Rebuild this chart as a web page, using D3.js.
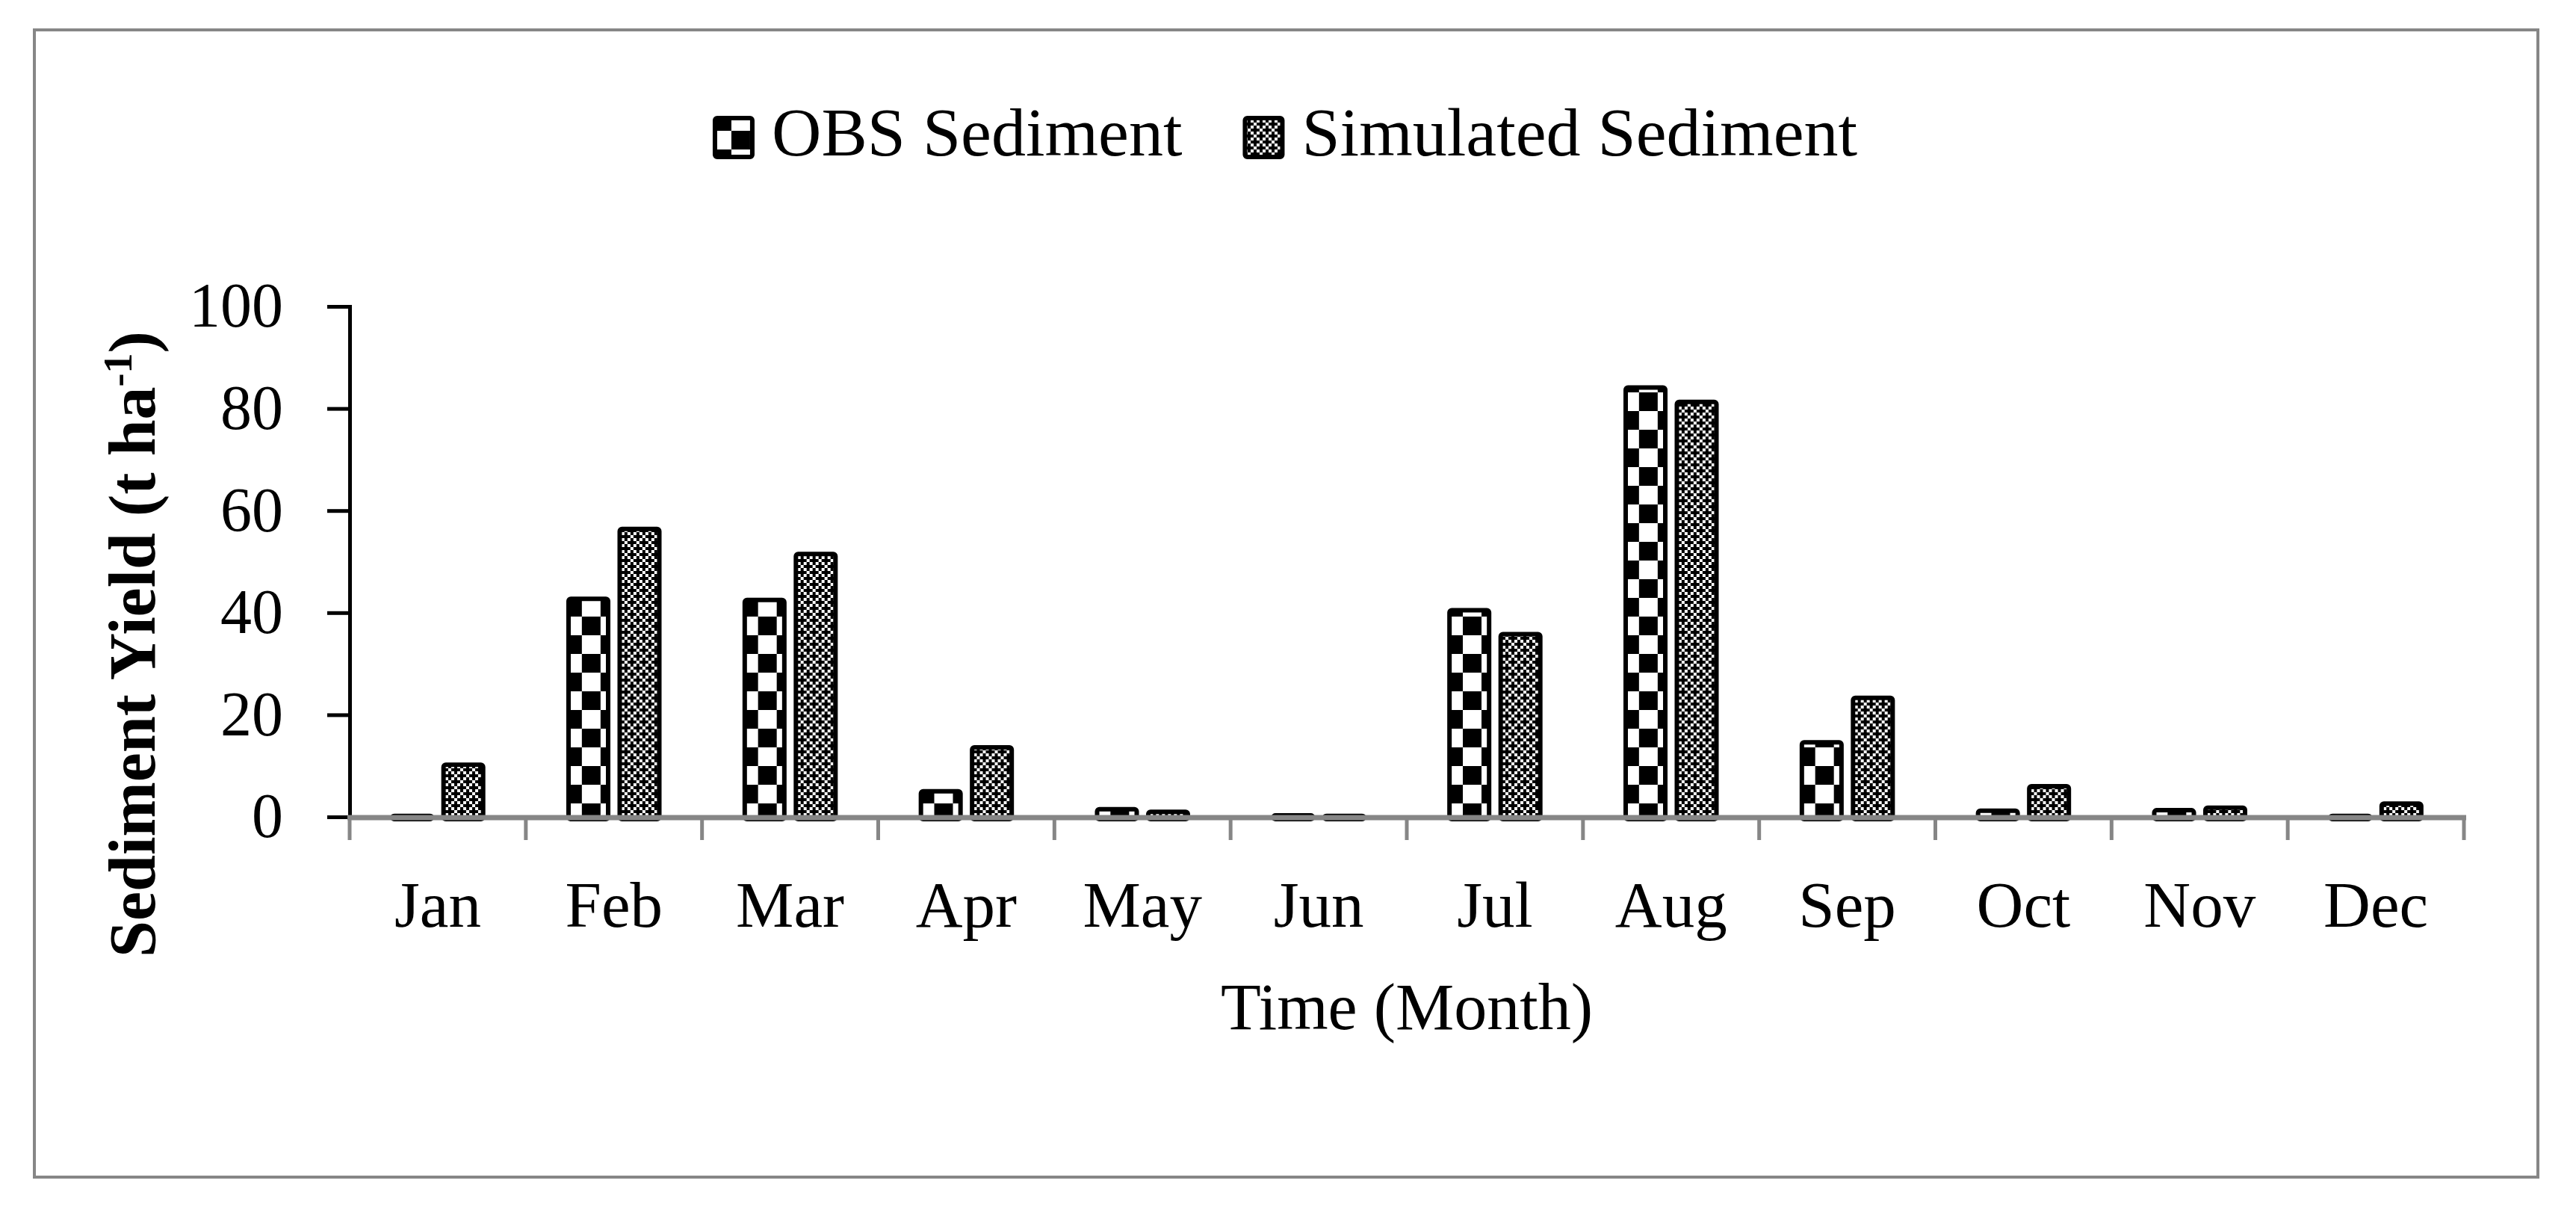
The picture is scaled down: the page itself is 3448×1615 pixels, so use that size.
<!DOCTYPE html>
<html>
<head>
<meta charset="utf-8">
<script src="https://cdn.jsdelivr.net/npm/d3@7"></script>
<style>
  html,body{margin:0;padding:0;background:#fff;}
  svg{display:block;}
</style>
</head>
<body>
<div id="chart"></div>
<script>
// monthly sediment yield, observed vs simulated

const MONTHS=["Jan","Feb","Mar","Apr","May","Jun","Jul","Aug","Sep","Oct","Nov","Dec"];
const OBS_SEDIMENT=[0.2,42.7,42.5,5.0,1.5,0.3,40.5,84.1,14.6,1.2,1.3,0.2];
const SIM_SEDIMENT=[10.2,56.4,51.5,13.6,1.0,0.2,35.8,81.3,23.3,6.0,1.8,2.6];
const SERIES=["OBS Sediment","Simulated Sediment"];
const Y_TICKS=[0,20,40,60,80,100];

const W=3448, H=1615;
const FONT="'Palatino Linotype','Book Antiqua','Liberation Serif',serif";
const GREY="#868686";

const svg=d3.select("#chart").append("svg")
  .attr("width",W).attr("height",H)
  .style("background","#fff");

// fill patterns
const defs=svg.append("defs");
const pObs=defs.append("pattern").attr("id","pat-obs")
  .attr("patternUnits","userSpaceOnUse").attr("width",50).attr("height",50);
pObs.append("rect").attr("width",50).attr("height",50).attr("fill","#fff");
pObs.append("rect").attr("width",25).attr("height",25).attr("fill","#000");
pObs.append("rect").attr("x",25).attr("y",25).attr("width",25).attr("height",25).attr("fill","#000");

const CELL=4;
const SIM_GRID=[
  "WBWB",
  "BWBB",
  "WBWB",
  "BBBW"
];
const pSim=defs.append("pattern").attr("id","pat-sim")
  .attr("patternUnits","userSpaceOnUse").attr("width",CELL*4).attr("height",CELL*4);
pSim.append("rect").attr("width",CELL*4).attr("height",CELL*4).attr("fill","#000");
SIM_GRID.forEach((row,r)=>{
  row.split("").forEach((c,ci)=>{
    if(c==="W") pSim.append("rect").attr("x",ci*CELL).attr("y",r*CELL)
      .attr("width",CELL).attr("height",CELL).attr("fill","#fff");
  });
});
const FILLS={"OBS Sediment":"url(#pat-obs)","Simulated Sediment":"url(#pat-sim)"};

// outer frame
svg.append("rect").attr("x",46).attr("y",40).attr("width",3351).attr("height",1535)
  .attr("fill","none").attr("stroke",GREY).attr("stroke-width",4);

// scales
const x=d3.scaleBand().domain(MONTHS).range([468,3298]).padding(0);
const y=d3.scaleLinear().domain([0,100]).range([1093,410]);
const GROUP=68.5;
const sub=d3.scaleBand().domain(SERIES)
  .range([x.bandwidth()/2-GROUP,x.bandwidth()/2+GROUP])
  .paddingInner(0.226).paddingOuter(0.113);

const rows=MONTHS.map((m,i)=>({month:m,vals:[
  {s:SERIES[0],v:OBS_SEDIMENT[i]},
  {s:SERIES[1],v:SIM_SEDIMENT[i]}
]}));

// bars
const g=svg.append("g");
g.selectAll("g.m").data(rows).join("g").attr("class","m")
  .attr("transform",d=>`translate(${x(d.month)},0)`)
  .selectAll("rect").data(d=>d.vals).join("rect")
  .attr("x",d=>sub(d.s)).attr("width",sub.bandwidth())
  .attr("y",d=>y(d.v)).attr("height",d=>y(0)-y(d.v)+3)
  .attr("rx",3)
  .attr("fill",d=>FILLS[d.s])
  .attr("stroke","#000").attr("stroke-width",6);

// y axis
svg.append("g").attr("transform","translate(468,0)")
  .call(d3.axisLeft(y).tickValues(Y_TICKS).tickSize(30).tickPadding(59))
  .call(a=>a.select(".domain").attr("stroke","#000").attr("stroke-width",5))
  .call(a=>a.selectAll("line").attr("stroke","#000").attr("stroke-width",5))
  .call(a=>a.selectAll("text").attr("fill","#000")
    .style("font-size","84px").style("font-family",FONT));

// x axis (labels) + boundary ticks
svg.append("g").attr("transform","translate(0,1094)")
  .call(d3.axisBottom(x).tickSize(0))
  .call(a=>a.select(".domain").remove())
  .call(a=>a.selectAll("text").attr("y",146).attr("dy",0).attr("fill","#000")
    .style("font-size","87px").style("font-family",FONT));

const bounds=MONTHS.map(m=>x(m)).concat([x.range()[1]]);
svg.append("g").selectAll("line").data(bounds).join("line")
  .attr("x1",d=>d).attr("x2",d=>d).attr("y1",1094).attr("y2",1124)
  .attr("stroke",GREY).attr("stroke-width",5);
svg.append("line").attr("x1",465).attr("x2",3301).attr("y1",1094).attr("y2",1094)
  .attr("stroke",GREY).attr("stroke-width",7);

// axis titles
svg.append("text").attr("x",(468+3298)/2).attr("y",1377)
  .attr("text-anchor","middle").attr("fill","#000")
  .style("font-size","88px").style("font-family",FONT)
  .text("Time (Month)");

const yt=svg.append("text").attr("transform","translate(207,862) rotate(-90)")
  .attr("text-anchor","middle").attr("fill","#000")
  .style("font-size","88px").style("font-weight","bold").style("font-family",FONT);
yt.append("tspan").text("Sediment Yield (t ha");
yt.append("tspan").attr("dy",-31).style("font-size","54px").text("-1");
yt.append("tspan").attr("dy",31).text(")");

// legend, centred over the frame
const legend=svg.append("g");
let lx=0;
SERIES.forEach((s,i)=>{
  legend.append("rect").attr("x",lx+3).attr("y",158).attr("width",50).attr("height",52)
    .attr("rx",3).attr("fill",FILLS[s]).attr("stroke","#000").attr("stroke-width",6);
  const t=legend.append("text").attr("x",lx+79).attr("y",208).attr("fill","#000")
    .style("font-size","92px").style("font-family",FONT).text(s);
  lx=lx+79+t.node().getComputedTextLength()+(i===0?81:0);
});
legend.attr("transform",`translate(${1720-lx/2},0)`);
</script>
</body>
</html>
